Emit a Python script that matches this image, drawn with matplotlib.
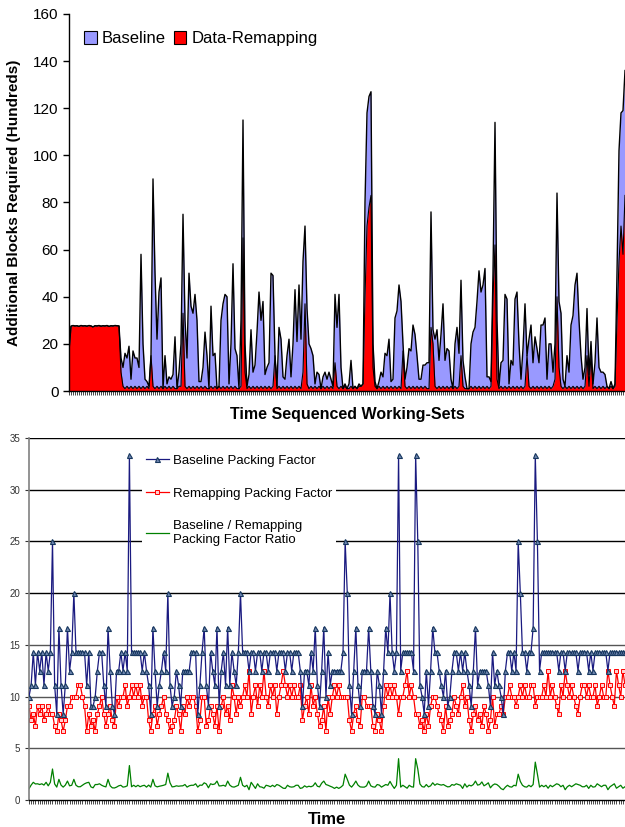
import numpy as np
import matplotlib
matplotlib.use('Agg')
import matplotlib.pyplot as plt
from matplotlib.patches import Patch

plt.rcParams['font.family'] = ['Liberation Sans', 'DejaVu Sans']

# --- top chart: additional blocks required (hundreds), one value per working set ---
baseline_blocks = [
    17,
    27.5, 27.8, 27.6, 27.7, 27.4, 27.8, 27.6, 27.7, 27.5, 27.8,
    27.6, 27.2, 27.7, 27.6, 27.8, 27.5, 27.7, 27.6, 27.8, 27.4,
    27.7, 27.6, 27.8, 27.7, 27.6,
    14, 10, 16, 14, 19, 5, 17, 14, 14, 10,
    58, 20, 5, 4, 2, 15, 90, 50, 22, 42,
    48, 1, 15, 3, 6, 5, 7, 23, 1, 8,
    20, 75, 30, 14, 50, 36, 33, 41, 30, 4,
    4, 10, 25, 15, 1, 36, 15, 16, 1, 2,
    30, 37, 41, 40, 3, 20, 54, 18, 15, 1,
    30, 115, 20, 2, 7, 26, 8, 11, 25, 42,
    30, 38, 7, 10, 12, 50, 49, 15, 2, 27,
    22, 6, 5, 15, 22, 6, 20, 43, 21, 45,
    22, 55, 70, 35, 20, 18, 15, 3, 8, 7,
    1, 6, 8, 5, 8, 5, 2, 41, 27, 41,
    10, 1, 3, 1, 3, 13, 1, 2, 1, 3,
    2, 3, 80, 118, 125, 127, 20, 4, 1, 4,
    8, 6, 16, 15, 22, 4, 5, 31, 34, 45,
    38, 20, 5, 10, 18, 17, 28, 24, 15, 5,
    5, 11, 11, 12, 12, 76, 26, 22, 26, 13,
    24, 37, 13, 18, 17, 5, 1, 20, 27, 16,
    47, 13, 6, 1, 1, 20, 25, 27, 38, 51,
    42, 45, 52, 6, 6, 4, 50, 114, 30, 2,
    12, 13, 41, 39, 3, 13, 11, 39, 42, 20,
    5, 18, 37, 15, 22, 28, 12, 23, 18, 12,
    28, 28, 31, 5, 20, 20, 8, 20, 84, 38,
    33, 5, 2, 15, 8, 28, 32, 45, 50, 30,
    15, 5, 10, 35, 7, 21, 3, 12, 31, 10,
    8, 8, 7, 2, 1, 4, 1, 3, 50, 102,
    118, 119, 136,
]
remap_blocks = [
    17,
    27.5, 27.8, 27.6, 27.7, 27.4, 27.8, 27.6, 27.7, 27.5, 27.8,
    27.6, 27.2, 27.7, 27.6, 27.8, 27.5, 27.7, 27.6, 27.8, 27.4,
    27.7, 27.6, 27.8, 27.7, 27.6,
    8, 2, 1, 2, 1, 2, 1, 2, 1, 2,
    1, 2, 1, 2, 1, 15, 2, 1, 2, 1,
    2, 1, 2, 1, 2, 1, 2, 1, 1, 2,
    2, 33, 2, 1, 2, 1, 2, 1, 2, 1,
    2, 1, 2, 1, 1, 2, 1, 2, 1, 2,
    1, 2, 1, 2, 1, 2, 1, 2, 1, 1,
    2, 65, 8, 1, 2, 1, 2, 1, 2, 1,
    2, 1, 2, 1, 2, 1, 2, 15, 1, 2,
    1, 2, 1, 2, 1, 2, 1, 2, 1, 2,
    1, 8, 37, 3, 1, 2, 1, 2, 1, 2,
    1, 2, 1, 2, 1, 2, 1, 12, 2, 1,
    2, 1, 2, 1, 1, 2, 1, 2, 1, 2,
    2, 3, 40, 70, 78, 83, 10, 2, 1, 2,
    1, 2, 1, 2, 1, 2, 1, 2, 1, 2,
    1, 17, 2, 1, 2, 1, 2, 1, 2, 1,
    2, 1, 2, 1, 1, 27, 20, 2, 1, 2,
    1, 2, 1, 2, 1, 2, 1, 2, 1, 2,
    15, 2, 1, 1, 1, 2, 1, 2, 1, 2,
    1, 2, 1, 2, 1, 2, 40, 62, 5, 1,
    2, 1, 2, 1, 2, 1, 2, 1, 2, 1,
    2, 1, 2, 15, 2, 1, 2, 1, 2, 1,
    2, 1, 2, 1, 2, 1, 2, 5, 40, 10,
    2, 1, 2, 1, 2, 1, 2, 1, 2, 1,
    2, 1, 2, 15, 2, 15, 1, 2, 1, 2,
    1, 2, 1, 2, 1, 2, 1, 2, 30, 55,
    70, 58, 83,
]

# --- bottom chart: packing factor levels are 100 / n, stored as n per time step ---
baseline_div = [
    10, 9, 7, 9, 7, 8, 7, 9, 7, 8,
    7, 4, 9, 12, 6, 9, 12, 9, 6, 8,
    7, 5, 7, 7, 7, 7, 7, 9, 7, 11,
    11, 10, 8, 7, 7, 9, 11, 6, 8, 11,
    12, 8, 8, 7, 8, 7, 8, 3, 7, 7,
    7, 7, 7, 8, 7, 8, 9, 12, 6, 8,
    11, 9, 8, 7, 8, 5, 9, 11, 10, 8,
    9, 11, 8, 8, 8, 8, 7, 7, 7, 12,
    9, 7, 6, 9, 11, 7, 8, 9, 6, 11,
    8, 7, 9, 6, 9, 7, 8, 9, 7, 5,
    7, 7, 7, 8, 7, 7, 8, 7, 7, 8,
    7, 7, 8, 7, 7, 7, 8, 7, 7, 7,
    8, 7, 7, 8, 7, 7, 7, 8, 11, 8,
    8, 9, 7, 8, 6, 9, 11, 8, 6, 10,
    7, 9, 8, 8, 8, 8, 8, 7, 4, 5,
    9, 12, 8, 6, 9, 11, 8, 8, 8, 6,
    8, 11, 12, 8, 9, 12, 8, 6, 7, 5,
    7, 8, 7, 3, 8, 7, 7, 7, 7, 7,
    8, 3, 4, 9, 10, 12, 8, 11, 8, 6,
    7, 7, 8, 9, 10, 8, 11, 10, 8, 7,
    7, 8, 7, 8, 7, 8, 9, 11, 8, 6,
    9, 8, 8, 8, 8, 9, 11, 7, 9, 8,
    9, 10, 12, 8, 7, 7, 8, 7, 8, 4,
    5, 7, 7, 8, 7, 7, 6, 3, 4, 8,
    7, 7, 7, 7, 7, 7, 7, 7, 8, 7,
    7, 8, 7, 7, 7, 7, 7, 8, 7, 7,
    7, 7, 8, 7, 8, 7, 7, 7, 7, 7,
    7, 8, 7, 7, 7, 7, 7, 7, 7, 7,
]
remap_div = [
    11, 13, 12, 14, 11, 12, 11, 13, 12, 11,
    12, 12, 14, 15, 12, 13, 15, 13, 11, 11,
    10, 10, 10, 9, 9, 10, 11, 15, 12, 14,
    13, 15, 12, 11, 10, 12, 14, 12, 11, 13,
    14, 10, 11, 10, 10, 9, 11, 10, 9, 10,
    9, 10, 9, 11, 10, 10, 13, 15, 12, 11,
    14, 12, 11, 10, 12, 13, 15, 14, 13, 11,
    12, 15, 11, 12, 10, 11, 10, 10, 11, 15,
    13, 10, 10, 14, 13, 11, 12, 14, 11, 15,
    11, 10, 12, 11, 13, 9, 10, 12, 10, 11,
    10, 9, 10, 8, 12, 10, 9, 11, 9, 10,
    8, 10, 11, 9, 10, 9, 12, 10, 9, 8,
    9, 10, 9, 10, 9, 10, 10, 9, 13, 11,
    10, 12, 9, 11, 10, 12, 14, 13, 11, 15,
    10, 12, 10, 9, 10, 9, 10, 10, 10, 10,
    13, 15, 12, 11, 13, 14, 10, 10, 11, 11,
    11, 14, 15, 12, 13, 15, 11, 9, 10, 9,
    10, 9, 10, 12, 10, 10, 9, 8, 10, 9,
    10, 12, 12, 14, 13, 15, 12, 14, 11, 10,
    10, 11, 12, 13, 15, 11, 14, 13, 12, 10,
    11, 12, 10, 9, 11, 10, 13, 15, 12, 11,
    13, 12, 14, 11, 12, 15, 13, 10, 14, 12,
    12, 11, 12, 10, 10, 9, 10, 10, 11, 10,
    9, 10, 9, 10, 10, 9, 9, 11, 10, 10,
    10, 9, 10, 8, 10, 9, 10, 11, 12, 9,
    10, 8, 9, 10, 9, 10, 11, 12, 10, 9,
    9, 10, 9, 10, 10, 9, 11, 10, 9, 10,
    10, 8, 9, 10, 11, 8, 9, 10, 8, 9,
]

base_pf = 100.0 / np.array(baseline_div)
remap_pf = 100.0 / np.array(remap_div)
ratio = base_pf / remap_pf

fig = plt.figure(figsize=(6.25, 8.27), dpi=100)

# ---------------- top panel ----------------
ax1 = fig.add_axes([0.1104, 0.5272, 0.8896, 0.4559])
xt = np.arange(len(baseline_blocks))
ax1.fill_between(xt, baseline_blocks, color='#9999FF', lw=0)
ax1.plot(xt, baseline_blocks, color='black', lw=1.0)
ax1.fill_between(xt, remap_blocks, color='#FF0000', lw=0)
ax1.plot(xt, remap_blocks, color='black', lw=0.8)

ax1.set_xlim(0, len(xt) - 1)
ax1.set_ylim(0, 160)
ax1.set_yticks(range(0, 161, 20))
ax1.set_xticks([])
ax1.set_xticks(xt, minor=True)
ax1.tick_params(axis='x', which='minor', length=3, width=0.5, direction='out')
ax1.tick_params(axis='y', labelsize=11, length=4, width=1, colors='black')
for s in ['top', 'right']:
    ax1.spines[s].set_visible(False)
ax1.spines['left'].set_linewidth(1)
ax1.spines['bottom'].set_linewidth(1)
ax1.set_ylabel('Additional Blocks Required (Hundreds)', fontsize=11, fontweight='bold', labelpad=9)
ax1.set_xlabel('Time Sequenced Working-Sets', fontsize=11.5, fontweight='bold', labelpad=5)

handles = [Patch(facecolor='#9999FF', edgecolor='black', lw=0.8),
           Patch(facecolor='#FF0000', edgecolor='black', lw=0.8)]
ax1.legend(handles, ['Baseline', 'Data-Remapping'], ncol=2, frameon=False,
           loc='center left', bbox_to_anchor=(0.015, 0.934), fontsize=12,
           handlelength=0.75, handleheight=0.75, handletextpad=0.3,
           columnspacing=0.5, borderaxespad=0)

# ---------------- bottom panel ----------------
ax2 = fig.add_axes([0.0464, 0.0326, 0.9536, 0.4377])
xb = np.arange(len(baseline_div))
for yv in range(5, 36, 5):
    ax2.axhline(yv, color='black' if yv >= 20 else '#555555', lw=1, zorder=1)

ax2.plot(xb, base_pf, color='#1a1a80', lw=0.9, marker='^', ms=3.6,
         mfc='#6f86b0', mec='#17375e', mew=0.8, zorder=3,
         label='Baseline Packing Factor')
ax2.plot(xb, remap_pf, color='#FF0000', lw=0.9, marker='s', ms=3.0,
         mfc='#ffd0d0', mec='#FF0000', mew=0.7, zorder=2,
         label='Remapping Packing Factor')
ax2.plot(xb, ratio, color='#008000', lw=0.9, zorder=2,
         label='Baseline / Remapping\nPacking Factor Ratio')

ax2.set_xlim(0, len(xb) - 1)
ax2.set_ylim(0, 35)
ax2.set_yticks(range(0, 36, 5))
ax2.set_xticks([])
ax2.set_xticks(xb, minor=True)
ax2.tick_params(axis='x', which='minor', length=3, width=0.5, direction='out')
ax2.tick_params(axis='y', labelsize=7, length=3, width=0.8, colors='#333333')
for s in ['top', 'right']:
    ax2.spines[s].set_visible(False)
ax2.spines['left'].set_color('#808080')
ax2.spines['left'].set_linewidth(1.2)
ax2.spines['bottom'].set_linewidth(1)
ax2.set_xlabel('Time', fontsize=12, fontweight='bold', labelpad=2)

leg = ax2.legend(loc='upper left', bbox_to_anchor=(0.19, 0.965), fontsize=9.5,
                 frameon=True, facecolor='white', edgecolor='none', framealpha=1,
                 handlelength=1.7, handletextpad=0.3, labelspacing=1.55,
                 borderpad=0.3, borderaxespad=0)
leg.set_zorder(5)

fig.savefig('out.png', dpi=100)
